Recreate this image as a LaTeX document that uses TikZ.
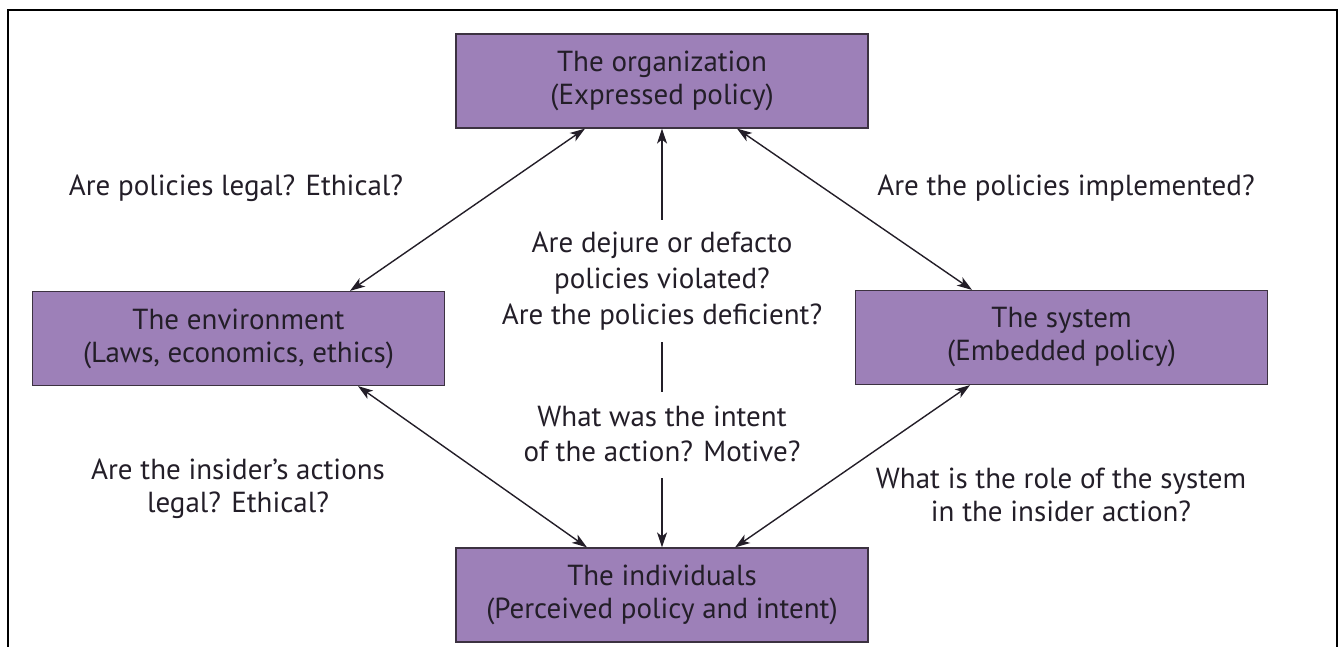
\documentclass[tikz,border=0pt]{standalone}
\usepackage{fontspec}
\setmainfont{PT Sans}
\usetikzlibrary{arrows.meta,calc}
\definecolor{boxfill}{RGB}{157,128,184}
\definecolor{boxline}{RGB}{60,50,65}
\definecolor{txt}{RGB}{35,30,40}
\begin{document}
\begin{tikzpicture}[x=1pt,y=-1pt,
  box/.style={draw=boxline,line width=1.2pt,fill=boxfill,minimum width=412pt,minimum height=94pt,inner sep=0pt,align=center,font=\fontsize{29}{33}\selectfont,text=txt},
  lbl/.style={align=center,font=\fontsize{29}{33}\selectfont,text=txt,inner sep=0pt},
  conn/.style={line width=1.4pt,draw=txt,>={Stealth[length=15pt,width=10pt,inset=4pt]}}
]
\useasboundingbox (0,0) rectangle (1343,647);
\draw[line width=2.8pt] (8,647) -- (8,10) -- (1337,10) -- (1337,647);

\node[box] (top) at (662,81) {The organization\\(Expressed policy)};
\node[box] (left) at (238.5,338.5) {The environment\\(Laws, economics, ethics)};
\node[box] (right) at (1061.5,337.5) {The system\\(Embedded policy)};
\node[box] (bottom) at (662,595) {The individuals\\(Perceived policy and intent)};

\node[lbl] (qtl) at (236,188) {Are policies legal? Ethical?};
\node[lbl] (qtr) at (1066,188) {Are the policies implemented?};
\node[lbl,font=\fontsize{29}{36}\selectfont] (qm1) at (662,281) {Are dejure or defacto\\policies violated?\\Are the policies deficient?};
\node[lbl,font=\fontsize{29}{35}\selectfont] (qm2) at (662,434) {What was the intent\\of the action? Motive?};
\node[lbl] (qbl) at (238,489) {Are the insider’s actions\\legal? Ethical?};
\node[lbl] (qbr) at (1061,495) {What is the role of the system\\in the insider action?};

\coordinate (vA) at (662,220);
\coordinate (vB) at (662,342);
\coordinate (vC) at (662,392);
\coordinate (vD) at (662,478);

\draw[conn,<->] ($(top.south)+(-77,0)$) -- ($(left.north)+(111.5,0)$);
\draw[conn,<->] ($(top.south)+(75,0)$) -- ($(right.north)+(-89.5,0)$);
\draw[conn,<->] ($(left.south)+(119.5,0)$) -- ($(bottom.north)+(-75,0)$);
\draw[conn,<->] ($(bottom.north)+(73,0)$) -- ($(right.south)+(-91.5,0)$);
\draw[conn,<-] (top.south) -- (vA);
\draw[conn] (vB) -- (vC);
\draw[conn,->] (vD) -- (bottom.north);
\end{tikzpicture}
\end{document}
